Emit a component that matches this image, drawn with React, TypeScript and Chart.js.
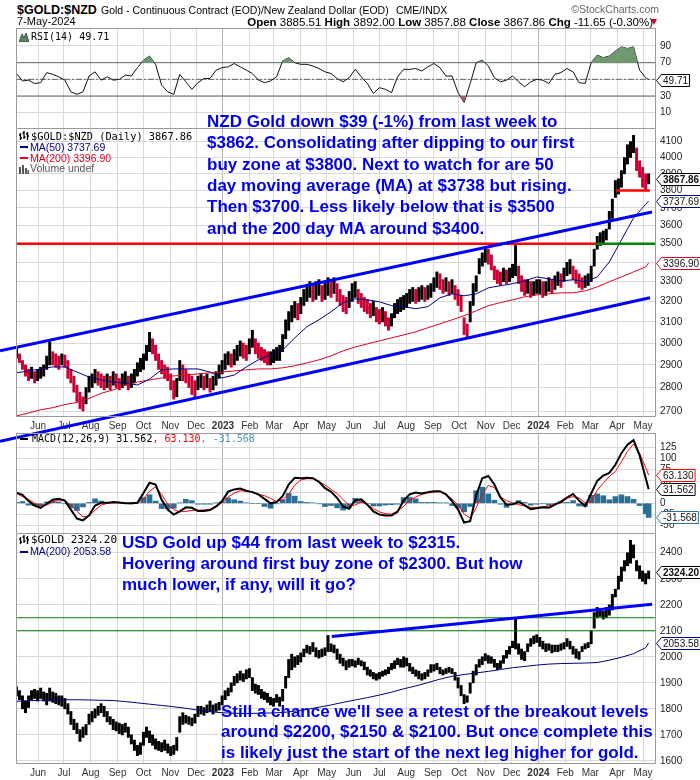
import React, { useEffect, useRef } from "react";
import { Chart, registerables } from "chart.js";

Chart.register(...registerables);

const FONT = "'Liberation Sans', Arial, Helvetica, sans-serif";
const MONO = "'DejaVu Sans Mono', monospace";

// ---------- time axis: x = days since 1-May-2022 ----------
const DAY0 = Date.UTC(2022, 4, 1);
const MONTHS = ["Jan", "Feb", "Mar", "Apr", "May", "Jun", "Jul", "Aug", "Sep", "Oct", "Nov", "Dec"];
const X_MIN = 5.5;
const X_MAX = 746;
const BAR_START = 6; // first sample 7-May-2022
const BAR_STEP = 3.5; // price samples (twice a week)
const WEEK_STEP = 7; // indicator samples
const MA_STEP = 14; // moving-average samples
const LAST_DAY = 737.5; // 7-May-2024

// ---------- $GOLD:$NZD price ranges (low / high per half-week) ----------
const NZD_LO = [
  2930, 2910, 2880, 2850, 2830, 2840, 2820, 2830, 2840, 2850,
  2880, 2900, 2900, 2890, 2880, 2900, 2890, 2840, 2820, 2780,
  2740, 2710, 2700, 2730, 2780, 2800, 2820, 2810, 2800, 2790,
  2800, 2790, 2810, 2800, 2790, 2800, 2810, 2790, 2800, 2820,
  2850, 2870, 2880, 2920, 2960, 2950, 2920, 2880, 2860, 2840,
  2830, 2790, 2750, 2760, 2830, 2830, 2820, 2800, 2770, 2760,
  2790, 2800, 2790, 2800, 2780, 2790, 2810, 2840, 2860, 2880,
  2900, 2890, 2900, 2920, 2940, 2930, 2920, 2950, 2980, 2950,
  2930, 2920, 2910, 2900, 2900, 2910, 2920, 2920, 2960, 3020,
  3060, 3100, 3120, 3110, 3140, 3180, 3200, 3220, 3200, 3210,
  3230, 3200, 3210, 3230, 3220, 3240, 3200, 3180, 3150, 3140,
  3170, 3200, 3220, 3190, 3170, 3150, 3140, 3120, 3130, 3100,
  3090, 3100, 3080, 3060, 3080, 3120, 3140, 3150, 3160, 3170,
  3190, 3200, 3190, 3200, 3210, 3200, 3210, 3220, 3250, 3270,
  3260, 3240, 3250, 3230, 3240, 3210, 3180, 3150, 3040, 3030,
  3100, 3180, 3250, 3340, 3380, 3400, 3390, 3360, 3310, 3290,
  3280, 3300, 3290, 3300, 3320, 3330, 3290, 3250, 3230, 3240,
  3220, 3230, 3240, 3240, 3220, 3230, 3250, 3240, 3260, 3280,
  3270, 3300, 3330, 3340, 3310, 3290, 3270, 3260, 3270, 3280,
  3300, 3380, 3470, 3490, 3500, 3520, 3580, 3640, 3760, 3780,
  3820, 3900, 3960, 4000, 4030, 3920, 3880, 3820, 3800, 3840,
];
const NZD_HI = [
  2985, 2950, 2920, 2900, 2880, 2890, 2870, 2880, 2890, 2900,
  2940, 3005, 2960, 2950, 2940, 2950, 2945, 2920, 2880, 2850,
  2810, 2780, 2760, 2800, 2850, 2860, 2880, 2870, 2860, 2850,
  2860, 2850, 2870, 2860, 2840, 2860, 2870, 2850, 2860, 2880,
  2910, 2930, 2950, 2990, 3050, 3020, 2990, 2950, 2920, 2900,
  2890, 2860, 2830, 2840, 2920, 2900, 2880, 2860, 2850, 2830,
  2850, 2860, 2850, 2860, 2840, 2850, 2870, 2900, 2920, 2950,
  2960, 2950, 2970, 2990, 3010, 3000, 2990, 3020, 3060, 3020,
  3000, 2980, 2970, 2960, 2960, 2970, 2980, 2990, 3040, 3110,
  3150, 3180, 3200, 3190, 3220, 3260, 3280, 3300, 3290, 3300,
  3310, 3280, 3290, 3320, 3300, 3320, 3290, 3260, 3230, 3220,
  3250, 3290, 3300, 3260, 3240, 3220, 3210, 3190, 3200, 3170,
  3160, 3170, 3150, 3120, 3140, 3190, 3210, 3220, 3230, 3240,
  3260, 3270, 3260, 3270, 3280, 3270, 3280, 3290, 3320, 3350,
  3340, 3310, 3320, 3300, 3310, 3280, 3260, 3230, 3120, 3090,
  3200, 3290, 3330, 3420, 3450, 3480, 3470, 3440, 3380, 3360,
  3350, 3370, 3360, 3370, 3390, 3490, 3380, 3330, 3310, 3310,
  3300, 3300, 3310, 3310, 3300, 3300, 3320, 3310, 3330, 3350,
  3340, 3370, 3400, 3415, 3380, 3360, 3340, 3320, 3330, 3340,
  3380, 3470, 3540, 3560, 3570, 3580, 3680, 3750, 3860, 3870,
  3920, 4000, 4080, 4100, 4140, 4060, 3980, 3940, 3900, 3900,
];
const NZD_MA50 = [
  2865, 2873, 2882, 2891, 2891, 2868, 2846, 2833, 2824, 2820, 2811, 2837, 2878, 2882,
  2882, 2882, 2868, 2842, 2855, 2891, 2923, 2945, 2968, 3024, 3077, 3110, 3149, 3194,
  3213, 3208, 3198, 3179, 3174, 3164, 3174, 3218, 3238, 3228, 3238, 3268, 3279, 3289,
  3304, 3324, 3314, 3304, 3309, 3299, 3324, 3402, 3520, 3642, 3720, 3737.69,
];
const NZD_MA200 = [
  2679, 2692, 2705, 2714, 2727, 2736, 2753, 2775, 2790, 2811, 2824, 2833, 2842, 2851,
  2855, 2860, 2865, 2868, 2873, 2878, 2882, 2882, 2887, 2896, 2909, 2923, 2941, 2964,
  2982, 2996, 3010, 3024, 3038, 3053, 3072, 3091, 3110, 3130, 3154, 3179, 3194, 3208,
  3223, 3233, 3238, 3243, 3243, 3253, 3273, 3299, 3324, 3350, 3376, 3396.9,
];

// ---------- RSI(14) and MACD(12,26,9), weekly ----------
const RSI = [
  57, 48, 49, 45, 46, 58, 56, 53, 49, 35, 32, 35, 54, 59, 49, 53, 49, 50, 55, 54,
  64, 73, 78, 68, 43, 35, 32, 56, 47, 38, 46, 51, 51, 61, 64, 65, 69, 65, 61, 57,
  49, 46, 48, 53, 72, 76, 70, 68, 68, 66, 63, 59, 57, 51, 47, 52, 62, 53, 45, 33,
  40, 38, 34, 53, 62, 62, 63, 60, 65, 69, 64, 54, 54, 34, 22, 45, 70, 73, 66, 52,
  47, 49, 54, 47, 41, 47, 50, 49, 45, 56, 58, 63, 59, 46, 45, 70, 79, 76, 78, 84,
  89, 87, 89, 61, 52, 49.71,
];
const MACD = [
  24, 19, 5, -5, -10, -1, 8, 10, 6, -14, -34, -38, -27, -5, 1, 1, 3, 2, 0, 0,
  1, 23, 46, 42, 8, -14, -25, -18, -9, -10, -17, -17, -15, -7, 5, 26, 31, 33, 28, 25,
  20, 10, 0, 3, 16, 42, 57, 56, 57, 56, 48, 34, 26, 12, -7, -12, 7, 9, -3, -18,
  -25, -27, -27, -19, 6, 20, 24, 22, 25, 27, 27, 20, 5, -14, -43, -40, 18, 56, 61, 42,
  13, -3, -2, 3, -4, -13, -11, -9, -10, -3, 4, 13, 21, 6, -6, 22, 50, 62, 68, 86,
  112, 131, 141, 107, 57, 31.562,
];
const SIGNAL = [
  22, 15, 9, 0, -5, -4, 3, 7, 7, -4, -18, -30, -29, -15, -4, 0, 1, 1, 0, -1,
  0, 10, 27, 37, 20, -2, -14, -19, -18, -16, -15, -15, -13, -8, 2, 14, 23, 28, 27, 25,
  20, 17, 11, 4, 8, 20, 41, 52, 55, 55, 49, 41, 31, 22, 8, -4, -4, 3, -3, -12,
  -19, -23, -24, -17, -7, 7, 14, 20, 23, 25, 26, 19, 10, -4, -24, -33, -10, 20, 40, 35,
  15, 6, 1, -3, -6, -9, -9, -8, -6, -2, 1, 11, 15, 12, 1, 4, 29, 45, 60, 71,
  93, 116, 132, 112, 80, 63.13,
];
const HIST = [
  2, 4, -4, -5, -5, 3, 5, 3, -1, -10, -16, -8, 2, 10, 5, 1, 2, 1, 0, 1,
  1, 13, 19, 5, -12, -12, -11, 1, 9, 6, -2, -2, -2, 1, 3, 12, 8, 5, 1, 0,
  0, -7, -11, -1, 8, 22, 16, 4, 2, 1, -1, -7, -5, -10, -15, -8, 11, 6, 0, -6,
  -6, -4, -3, -2, 13, 13, 10, 2, 2, 2, 1, 1, -5, -10, -19, -7, 28, 36, 21, 7,
  -2, -9, -3, 6, 2, -4, -2, -1, -4, -1, 3, 2, 6, -6, -7, 18, 21, 17, 8, 15,
  19, 15, 9, -5, -23, -31.568,
];

// ---------- $GOLD (USD) price ranges ----------
const USD_LO = [
  1850, 1835, 1800, 1785, 1805, 1835, 1840, 1830, 1840, 1830,
  1815, 1830, 1825, 1820, 1815, 1810, 1800, 1780, 1740, 1720,
  1705, 1675, 1690, 1700, 1740, 1750, 1765, 1775, 1785, 1770,
  1750, 1740, 1720, 1715, 1705, 1700, 1710, 1690, 1665, 1640,
  1620, 1625, 1660, 1690, 1670, 1660, 1645, 1640, 1635, 1640,
  1630, 1620, 1625, 1640, 1710, 1740, 1745, 1740, 1735, 1745,
  1770, 1780, 1775, 1785, 1790, 1780, 1790, 1795, 1815, 1835,
  1850, 1865, 1890, 1900, 1910, 1905, 1915, 1920, 1870, 1860,
  1855, 1840, 1835, 1825, 1815, 1810, 1825, 1810, 1830, 1880,
  1920, 1950, 1960, 1970, 1980, 2000, 2015, 2010, 2020, 2000,
  1995, 2000, 2005, 2020, 2020, 2015, 1990, 1975, 1965, 1950,
  1960, 1965, 1960, 1970, 1965, 1950, 1930, 1925, 1915, 1910,
  1915, 1925, 1930, 1935, 1950, 1955, 1970, 1960, 1960, 1965,
  1945, 1935, 1925, 1915, 1910, 1915, 1925, 1940, 1945, 1950,
  1935, 1930, 1935, 1940, 1935, 1910, 1880, 1850, 1820, 1825,
  1860, 1900, 1930, 1960, 1970, 1985, 1975, 1975, 1960, 1950,
  1955, 1975, 1995, 2010, 2035, 2030, 2010, 1990, 1985, 2020,
  2040, 2050, 2055, 2040, 2030, 2020, 2025, 2015, 2020, 2020,
  2025, 2030, 2040, 2030, 2010, 1995, 1990, 2020, 2030, 2035,
  2050, 2110, 2150, 2155, 2145, 2150, 2160, 2180, 2230, 2260,
  2290, 2330, 2350, 2360, 2380, 2330, 2300, 2290, 2280, 2300,
];
const USD_HI = [
  1885, 1870, 1850, 1830, 1850, 1870, 1875, 1870, 1880, 1865,
  1860, 1880, 1865, 1860, 1850, 1850, 1840, 1820, 1790, 1760,
  1745, 1720, 1730, 1740, 1780, 1790, 1800, 1810, 1820, 1810,
  1790, 1770, 1760, 1750, 1745, 1740, 1745, 1730, 1700, 1680,
  1660, 1670, 1710, 1730, 1715, 1700, 1685, 1675, 1670, 1680,
  1665, 1655, 1660, 1690, 1770, 1785, 1775, 1770, 1765, 1780,
  1810, 1810, 1805, 1815, 1830, 1815, 1820, 1825, 1850, 1870,
  1880, 1900, 1925, 1935, 1945, 1935, 1950, 1955, 1920, 1895,
  1890, 1875, 1865, 1860, 1845, 1840, 1855, 1845, 1875, 1925,
  1990, 2010, 2000, 2005, 2015, 2030, 2045, 2040, 2055, 2035,
  2025, 2030, 2035, 2082, 2050, 2045, 2030, 2010, 1995, 1985,
  1990, 1990, 1985, 1995, 1985, 1980, 1960, 1950, 1940, 1935,
  1940, 1945, 1950, 1960, 1975, 1985, 1995, 1990, 2000, 1995,
  1975, 1960, 1950, 1945, 1935, 1940, 1950, 1970, 1970, 1975,
  1960, 1950, 1955, 1960, 1955, 1940, 1920, 1890, 1855, 1850,
  1900, 1945, 1970, 1990, 2000, 2012, 2005, 2000, 1990, 1975,
  1985, 2005, 2025, 2040, 2060, 2150, 2050, 2030, 2020, 2050,
  2070, 2080, 2085, 2075, 2060, 2050, 2050, 2045, 2045, 2045,
  2050, 2055, 2070, 2060, 2040, 2030, 2020, 2040, 2050, 2055,
  2100, 2170, 2190, 2185, 2175, 2190, 2200, 2240, 2260, 2310,
  2345, 2370, 2400, 2448, 2430, 2370, 2350, 2330, 2320, 2330,
];
const USD_MA200 = [
  1829, 1831, 1833, 1834, 1835, 1835, 1834, 1833, 1832, 1828, 1823, 1818, 1813, 1808,
  1802, 1795, 1789, 1785, 1783, 1782, 1783, 1784, 1786, 1791, 1798, 1806, 1815, 1825,
  1834, 1843, 1853, 1864, 1877, 1888, 1901, 1914, 1925, 1932, 1938, 1944, 1951, 1958,
  1963, 1968, 1972, 1974, 1975, 1976, 1978, 1987, 1998, 2012, 2035, 2053.58,
];

// ---------- axis ticks ----------
const RSI_TICKS = [10, 30, 50, 70, 90];
const NZD_TICKS = [2700, 2800, 2900, 3000, 3100, 3200, 3300, 3400, 3500, 3600, 3700, 3800, 3900, 4000, 4100];
const MACD_TICKS = [-50, -25, 0, 25, 50, 75, 100, 125];
const USD_TICKS = [1600, 1700, 1800, 1900, 2000, 2100, 2200, 2300, 2400];

// ---------- drawn annotations: [day, price] ----------
const NZD_CHANNEL_UPPER = [[-13, 2964], [741.4, 3676]];
const NZD_CHANNEL_LOWER = [[-13, 2576], [739, 3218]];
const NZD_LEVEL_3500_RED = [[X_MIN, 3500], [675.4, 3500]];
const NZD_LEVEL_3500_GREEN = [[675.4, 3500], [X_MAX, 3500]];
const NZD_LEVEL_3800 = [[699.7, 3800], [739, 3800]];
const USD_TRENDLINE = [[370.8, 2078], [741.4, 2202]];
const USD_LEVEL_2150 = [[X_MIN, 2150], [X_MAX, 2150]];
const USD_LEVEL_2100 = [[X_MIN, 2100], [X_MAX, 2100]];

// ---------- last-value tags ----------
type Tag = { v: number; text: string; color: string; bold?: boolean };
const RSI_TAGS: Tag[] = [{ v: 49.71, text: "49.71", color: "#000" }];
const NZD_TAGS: Tag[] = [
  { v: 3867.86, text: "3867.86", color: "#000", bold: true },
  { v: 3737.69, text: "3737.69", color: "#000080" },
  { v: 3396.9, text: "3396.90", color: "#dd0022" },
];
const MACD_TAGS: Tag[] = [
  { v: 63.13, text: "63.130", color: "#ff0000" },
  { v: 31.562, text: "31.562", color: "#000" },
  { v: -31.568, text: "-31.568", color: "#2b6f96" },
];
const USD_TAGS: Tag[] = [
  { v: 2324.2, text: "2324.20", color: "#000", bold: true },
  { v: 2053.58, text: "2053.58", color: "#000080" },
];

// ---------- helpers ----------
const barDay = (i: number) => BAR_START + BAR_STEP * i;
const weekDay = (k: number) => Math.min(BAR_START + WEEK_STEP * k, LAST_DAY);
const maDay = (k: number) => Math.min(BAR_START + MA_STEP * k, LAST_DAY);

const MONTH_TICKS: { v: number; label: string; year: boolean }[] = [];
{
  let y = 2022;
  let m = 5;
  while (y < 2024 || (y === 2024 && m <= 4)) {
    MONTH_TICKS.push({ v: (Date.UTC(y, m, 1) - DAY0) / 86400000, label: m === 0 ? String(y) : MONTHS[m], year: m === 0 });
    m++;
    if (m === 12) {
      m = 0;
      y++;
    }
  }
}
const tickInfo = (v: any) => MONTH_TICKS.find((t) => Math.abs(t.v - v) < 0.01);

const zeroPad = (s: any) => {
  s.paddingTop = 0;
  s.paddingBottom = 0;
  s.paddingLeft = 0;
  s.paddingRight = 0;
};

const GRID = "#d9d9d9";

function xScale(labels: boolean) {
  return {
    type: "linear",
    min: X_MIN,
    max: X_MAX,
    offset: false,
    afterBuildTicks: (s: any) => {
      s.ticks = MONTH_TICKS.map((t) => ({ value: t.v }));
    },
    afterFit: (s: any) => {
      s.height = labels ? 16 : 0;
      zeroPad(s);
    },
    grid: { offset: false, drawTicks: false, color: (c: any) => (tickInfo(c.tick?.value)?.year ? "#b3b3b3" : GRID) },
    border: { display: false },
    ticks: {
      display: labels,
      autoSkip: false,
      maxRotation: 0,
      minRotation: 0,
      padding: 3,
      color: "#333",
      font: (c: any) => ({ family: FONT, size: 10, weight: tickInfo(c.tick?.value)?.year ? "bold" : "normal" }),
      callback: (v: any) => tickInfo(v)?.label ?? "",
    },
  };
}

function yScale(type: string, min: number, max: number, ticks: number[]) {
  return {
    type,
    position: "right",
    min,
    max,
    afterBuildTicks: (s: any) => {
      s.ticks = ticks.map((v) => ({ value: v }));
    },
    afterFit: (s: any) => {
      s.width = 44;
      zeroPad(s);
    },
    grid: { drawTicks: false, color: GRID },
    border: { display: false },
    ticks: { autoSkip: false, padding: 4, color: "#222", font: { family: FONT, size: 10 }, callback: (v: any) => String(v) },
  };
}

function seg(c: any, pts: number[][], color: string, width: number, dash: number[] = []) {
  const ctx = c.ctx;
  const xs = c.scales.x;
  const ys = c.scales.y;
  ctx.save();
  ctx.beginPath();
  ctx.strokeStyle = color;
  ctx.lineWidth = width;
  ctx.setLineDash(dash);
  pts.forEach(([d, v], i) => {
    const px = xs.getPixelForValue(d);
    const py = ys.getPixelForValue(v);
    if (i) ctx.lineTo(px, py);
    else ctx.moveTo(px, py);
  });
  ctx.stroke();
  ctx.restore();
}

function drawTag(c: any, t: Tag) {
  const ctx = c.ctx;
  const y = Math.round(c.scales.y.getPixelForValue(t.v)) + 0.5;
  ctx.save();
  ctx.font = `${t.bold ? "bold " : ""}10px ${FONT}`;
  const w = ctx.measureText(t.text).width;
  const x0 = c.chartArea.right + 0.5;
  const h = 12;
  ctx.beginPath();
  ctx.moveTo(x0, y);
  ctx.lineTo(x0 + 5, y - h / 2);
  ctx.lineTo(x0 + 8 + w, y - h / 2);
  ctx.lineTo(x0 + 8 + w, y + h / 2);
  ctx.lineTo(x0 + 5, y + h / 2);
  ctx.closePath();
  ctx.fillStyle = "#fff";
  ctx.fill();
  ctx.strokeStyle = t.color;
  ctx.lineWidth = 1;
  ctx.stroke();
  ctx.fillStyle = "#111";
  ctx.textBaseline = "middle";
  ctx.textAlign = "left";
  ctx.fillText(t.text, x0 + 6.5, y + 0.5);
  ctx.restore();
}

function extras(o: { id: string; frameTop: boolean; under?: (c: any) => void; over?: (c: any) => void; tags: Tag[] }) {
  return {
    id: o.id,
    beforeDatasetsDraw(c: any) {
      if (o.under) o.under(c);
    },
    afterDatasetsDraw(c: any) {
      if (o.over) o.over(c);
    },
    afterDraw(c: any) {
      const ctx = c.ctx;
      const a = c.chartArea;
      const l = Math.round(a.left) + 0.5;
      const r = Math.round(a.right) - 0.5;
      const t = Math.round(a.top) + 0.5;
      const b = Math.round(a.bottom) - 0.5;
      ctx.save();
      ctx.strokeStyle = "#9a9a9a";
      ctx.lineWidth = 1;
      ctx.beginPath();
      if (o.frameTop) {
        ctx.moveTo(l, t);
        ctx.lineTo(r, t);
      }
      ctx.moveTo(l, a.top);
      ctx.lineTo(l, b);
      ctx.lineTo(r, b);
      ctx.lineTo(r, a.top);
      ctx.stroke();
      ctx.restore();
      o.tags.forEach((tg) => drawTag(c, tg));
    },
  };
}

const common = {
  responsive: false,
  maintainAspectRatio: false,
  animation: false,
  devicePixelRatio: 1,
  events: [],
  plugins: { legend: { display: false }, tooltip: { enabled: false } },
};

const pts = (arr: number[], dayFn: (k: number) => number) => arr.map((v, k) => ({ x: dayFn(k), y: v }));

function rsiConfig(): any {
  const p = pts(RSI, weekDay);
  const clear = "rgba(0,0,0,0)";
  return {
    type: "line",
    data: {
      datasets: [
        { data: p, borderColor: clear, borderWidth: 0, pointRadius: 0, fill: { target: { value: 70 }, above: "#6f9a6f", below: clear } },
        { data: p, borderColor: clear, borderWidth: 0, pointRadius: 0, fill: { target: { value: 30 }, above: clear, below: "#a0605f" } },
        { data: p, borderColor: "#111", borderWidth: 1, pointRadius: 0, fill: false },
      ],
    },
    options: {
      ...common,
      layout: { padding: { left: 16, right: 0, top: 0, bottom: 0 } },
      scales: { x: xScale(false), y: yScale("linear", -9.6, 111.6, RSI_TICKS) },
    },
    plugins: [
      extras({
        id: "rsiExtras",
        frameTop: true,
        tags: RSI_TAGS,
        under: (c) => {
          seg(c, [[X_MIN, 70], [X_MAX, 70]], "#666", 1);
          seg(c, [[X_MIN, 30], [X_MAX, 30]], "#666", 1);
          seg(c, [[X_MIN, 50], [X_MAX, 50]], "#666", 1, [6, 2, 2, 2]);
        },
      }),
    ],
  };
}

function nzdConfig(): any {
  const bars = NZD_LO.map((lo, i) => ({ x: barDay(i), y: [lo, NZD_HI[i]] }));
  const colors = NZD_LO.map((lo, i) =>
    i === 0 || lo + NZD_HI[i] >= NZD_LO[i - 1] + NZD_HI[i - 1] ? "#000" : "#cc0033"
  );
  return {
    type: "bar",
    data: {
      datasets: [
        { type: "bar", data: bars, backgroundColor: colors, barThickness: 2.3, borderWidth: 0, order: 3 },
        { type: "line", data: pts(NZD_MA50, maDay), borderColor: "#000080", borderWidth: 1, pointRadius: 0, order: 1 },
        { type: "line", data: pts(NZD_MA200, maDay), borderColor: "#dd0022", borderWidth: 1, pointRadius: 0, order: 2 },
      ],
    },
    options: {
      ...common,
      layout: { padding: { left: 16, right: 0, top: 0, bottom: 12 } },
      scales: { x: xScale(true), y: yScale("logarithmic", 2675, 4181, NZD_TICKS) },
    },
    plugins: [
      extras({
        id: "nzdExtras",
        frameTop: false,
        tags: NZD_TAGS,
        over: (c) => {
          seg(c, NZD_LEVEL_3500_RED, "#ff0000", 2.5);
          seg(c, NZD_LEVEL_3500_GREEN, "#008000", 2.5);
          seg(c, NZD_LEVEL_3800, "#ff0000", 2.5);
          seg(c, NZD_CHANNEL_UPPER, "#0000ff", 3);
          seg(c, NZD_CHANNEL_LOWER, "#0000ff", 3);
        },
      }),
    ],
  };
}

function macdConfig(): any {
  return {
    type: "bar",
    data: {
      datasets: [
        { type: "bar", data: pts(HIST, weekDay), backgroundColor: "#2b6f96", barThickness: 5, borderWidth: 0, order: 3 },
        { type: "line", data: pts(SIGNAL, weekDay), borderColor: "#ff0000", borderWidth: 1, pointRadius: 0, order: 2 },
        { type: "line", data: pts(MACD, weekDay), borderColor: "#000", borderWidth: 2, pointRadius: 0, order: 1 },
      ],
    },
    options: {
      ...common,
      layout: { padding: { left: 16, right: 0, top: 0, bottom: 0 } },
      scales: { x: xScale(false), y: yScale("linear", -68.5, 157, MACD_TICKS) },
    },
    plugins: [extras({ id: "macdExtras", frameTop: true, tags: MACD_TAGS })],
  };
}

function usdConfig(): any {
  const bars = USD_LO.map((lo, i) => ({ x: barDay(i), y: [lo, USD_HI[i]] }));
  return {
    type: "bar",
    data: {
      datasets: [
        { type: "bar", data: bars, backgroundColor: "#000", barThickness: 2.3, borderWidth: 0, order: 2 },
        { type: "line", data: pts(USD_MA200, maDay), borderColor: "#000080", borderWidth: 1, pointRadius: 0, order: 1 },
      ],
    },
    options: {
      ...common,
      layout: { padding: { left: 16, right: 0, top: 0, bottom: 0 } },
      scales: { x: xScale(true), y: yScale("linear", 1588, 2472, USD_TICKS) },
    },
    plugins: [
      extras({
        id: "usdExtras",
        frameTop: false,
        tags: USD_TAGS,
        over: (c) => {
          seg(c, USD_LEVEL_2150, "#008000", 1);
          seg(c, USD_LEVEL_2100, "#008000", 1);
          seg(c, USD_TRENDLINE, "#0000ff", 3);
        },
      }),
    ],
  };
}

function Panel({ top, height, build }: { top: number; height: number; build: () => any }) {
  const ref = useRef<HTMLCanvasElement>(null);
  useEffect(() => {
    const chart = new Chart(ref.current as HTMLCanvasElement, build());
    return () => chart.destroy();
  }, []);
  return (
    <canvas
      ref={ref}
      width={700}
      height={height}
      style={{ position: "absolute", left: 0, top, width: 700, height }}
    />
  );
}

function Txt(props: { x: number; cy: number; size: number; family?: string; weight?: string; color?: string; children: any }) {
  const { x, cy, size, family = FONT, weight = "normal", color = "#000", children } = props;
  return (
    <div
      style={{
        position: "absolute",
        left: x,
        top: cy - size * 0.6,
        font: `${weight} ${size}px ${family}`,
        lineHeight: `${size * 1.2}px`,
        color,
        whiteSpace: "pre",
      }}
    >
      {children}
    </div>
  );
}

function BarsIcon({ x, y, color = "#000" }: { x: number; y: number; color?: string }) {
  return (
    <svg style={{ position: "absolute", left: x, top: y }} width="10" height="10">
      <path d="M1.5 2v7M0 4h1.5M1.5 7h1.5M5 0v8M3.5 2h1.5M5 6h1.5M8.5 1v8M7 3h1.5M8.5 5h1.5" stroke={color} strokeWidth="1.3" fill="none" />
    </svg>
  );
}

function VolIcon({ x, y }: { x: number; y: number }) {
  return (
    <svg style={{ position: "absolute", left: x, top: y }} width="10" height="10">
      <path d="M0 3h2v7H0zM3 1h2v9H3zM6 4h2v6H6zM8.5 6h1.5v4H8.5z" fill="#555" />
    </svg>
  );
}

function RsiIcon({ x, y }: { x: number; y: number }) {
  return (
    <svg style={{ position: "absolute", left: x, top: y }} width="10" height="10">
      <path d="M0 10L3 2L5 6L7 1L10 10Z" fill="#5d8a5d" stroke="#234" strokeWidth="0.8" />
    </svg>
  );
}

function Dash({ x, cy, color }: { x: number; cy: number; color: string }) {
  return <div style={{ position: "absolute", left: x, top: cy - 1, width: 8, height: 2, background: color }} />;
}

const blockStyle = (left: number, top: number, lh: number): any => ({
  position: "absolute",
  left,
  top,
  font: `bold 17px ${FONT}`,
  lineHeight: `${lh}px`,
  color: "#0000ee",
  whiteSpace: "pre",
});

export default function App() {
  return (
    <div style={{ position: "absolute", left: 0, top: 0, width: 700, height: 780, background: "#fff", overflow: "hidden" }}>
      <Panel top={28} height={101} build={rsiConfig} />
      <Panel top={129} height={316} build={nzdConfig} />
      <Panel top={433} height={101} build={macdConfig} />
      <Panel top={534} height={246} build={usdConfig} />

      {/* header */}
      <Txt x={17} cy={10} size={12.5} weight="bold">$GOLD:$NZD</Txt>
      <Txt x={101} cy={10} size={10.5}>Gold - Continuous Contract (EOD)/New Zealand Dollar (EOD)</Txt>
      <Txt x={396} cy={10} size={10.5}>CME/INDX</Txt>
      <div style={{ position: "absolute", right: 41, top: 3, font: `10.5px ${FONT}`, lineHeight: "13px", color: "#666" }}>©StockCharts.com</div>
      <Txt x={17} cy={22} size={11}>7-May-2024</Txt>
      <div style={{ position: "absolute", right: 47, top: 15, font: `11.5px ${FONT}`, lineHeight: "14px", color: "#000", whiteSpace: "pre" }}>
        <b>Open</b> 3885.51 <b>High</b> 3892.00 <b>Low</b> 3857.88 <b>Close</b> 3867.86 <b>Chg</b> -11.65 (-0.30%)
      </div>
      <div style={{ position: "absolute", left: 651, top: 19, width: 0, height: 0, borderLeft: "3.5px solid transparent", borderRight: "3.5px solid transparent", borderTop: "6px solid #cc0033" }} />

      {/* RSI legend */}
      <RsiIcon x={19} y={32} />
      <Txt x={31} cy={37} size={10} family={MONO}>RSI(14) 49.71</Txt>

      {/* main legend */}
      <BarsIcon x={19} y={131} />
      <Txt x={31} cy={136} size={10.3} family={MONO}>$GOLD:$NZD (Daily) 3867.86</Txt>
      <Dash x={20} cy={147} color="#000080" />
      <Txt x={30} cy={147} size={10.5} color="#000080">MA(50) 3737.69</Txt>
      <Dash x={20} cy={158} color="#dd0022" />
      <Txt x={30} cy={158} size={10.5} color="#dd0022">MA(200) 3396.90</Txt>
      <VolIcon x={19} y={164} />
      <Txt x={30} cy={168.5} size={10.5} color="#555">Volume undef</Txt>

      {/* MACD legend */}
      <Dash x={20} cy={439} color="#000" />
      <div style={{ position: "absolute", left: 32, top: 433, font: `10px ${MONO}`, lineHeight: "12px", whiteSpace: "pre" }}>
        <span style={{ color: "#000" }}>MACD(12,26,9) 31.562</span>
        <span style={{ color: "#ff0000" }}>, 63.130</span>
        <span style={{ color: "#4a9ac8" }}>, -31.568</span>
      </div>

      {/* USD legend */}
      <BarsIcon x={19} y={535} />
      <Txt x={31} cy={540} size={11} family={MONO}>$GOLD 2324.20</Txt>
      <Dash x={20} cy={551.5} color="#000080" />
      <Txt x={30} cy={551.5} size={10.5} color="#000080">MA(200) 2053.58</Txt>

      {/* commentary */}
      <div style={blockStyle(207, 111.2, 21.3)}>
        {"NZD Gold down $39 (-1%) from last week to\n$3862. Consolidating after dipping to our first\nbuy zone at $3800. Next to watch for are 50\nday moving average (MA) at $3738 but rising.\nThen $3700. Less likely below that is $3500\nand the 200 day MA around $3400."}
      </div>
      <div style={blockStyle(122, 531.8, 21.3)}>
        {"USD Gold up $44 from last week to $2315.\nHovering around first buy zone of $2300. But how\nmuch lower, if any, will it go?"}
      </div>
      <div style={blockStyle(221, 701.6, 20.5)}>
        {"Still a chance we'll see a retest of the breakout levels\naround $2200, $2150 & $2100. But once complete this\nis likely just the start of the next leg higher for gold."}
      </div>
    </div>
  );
}
